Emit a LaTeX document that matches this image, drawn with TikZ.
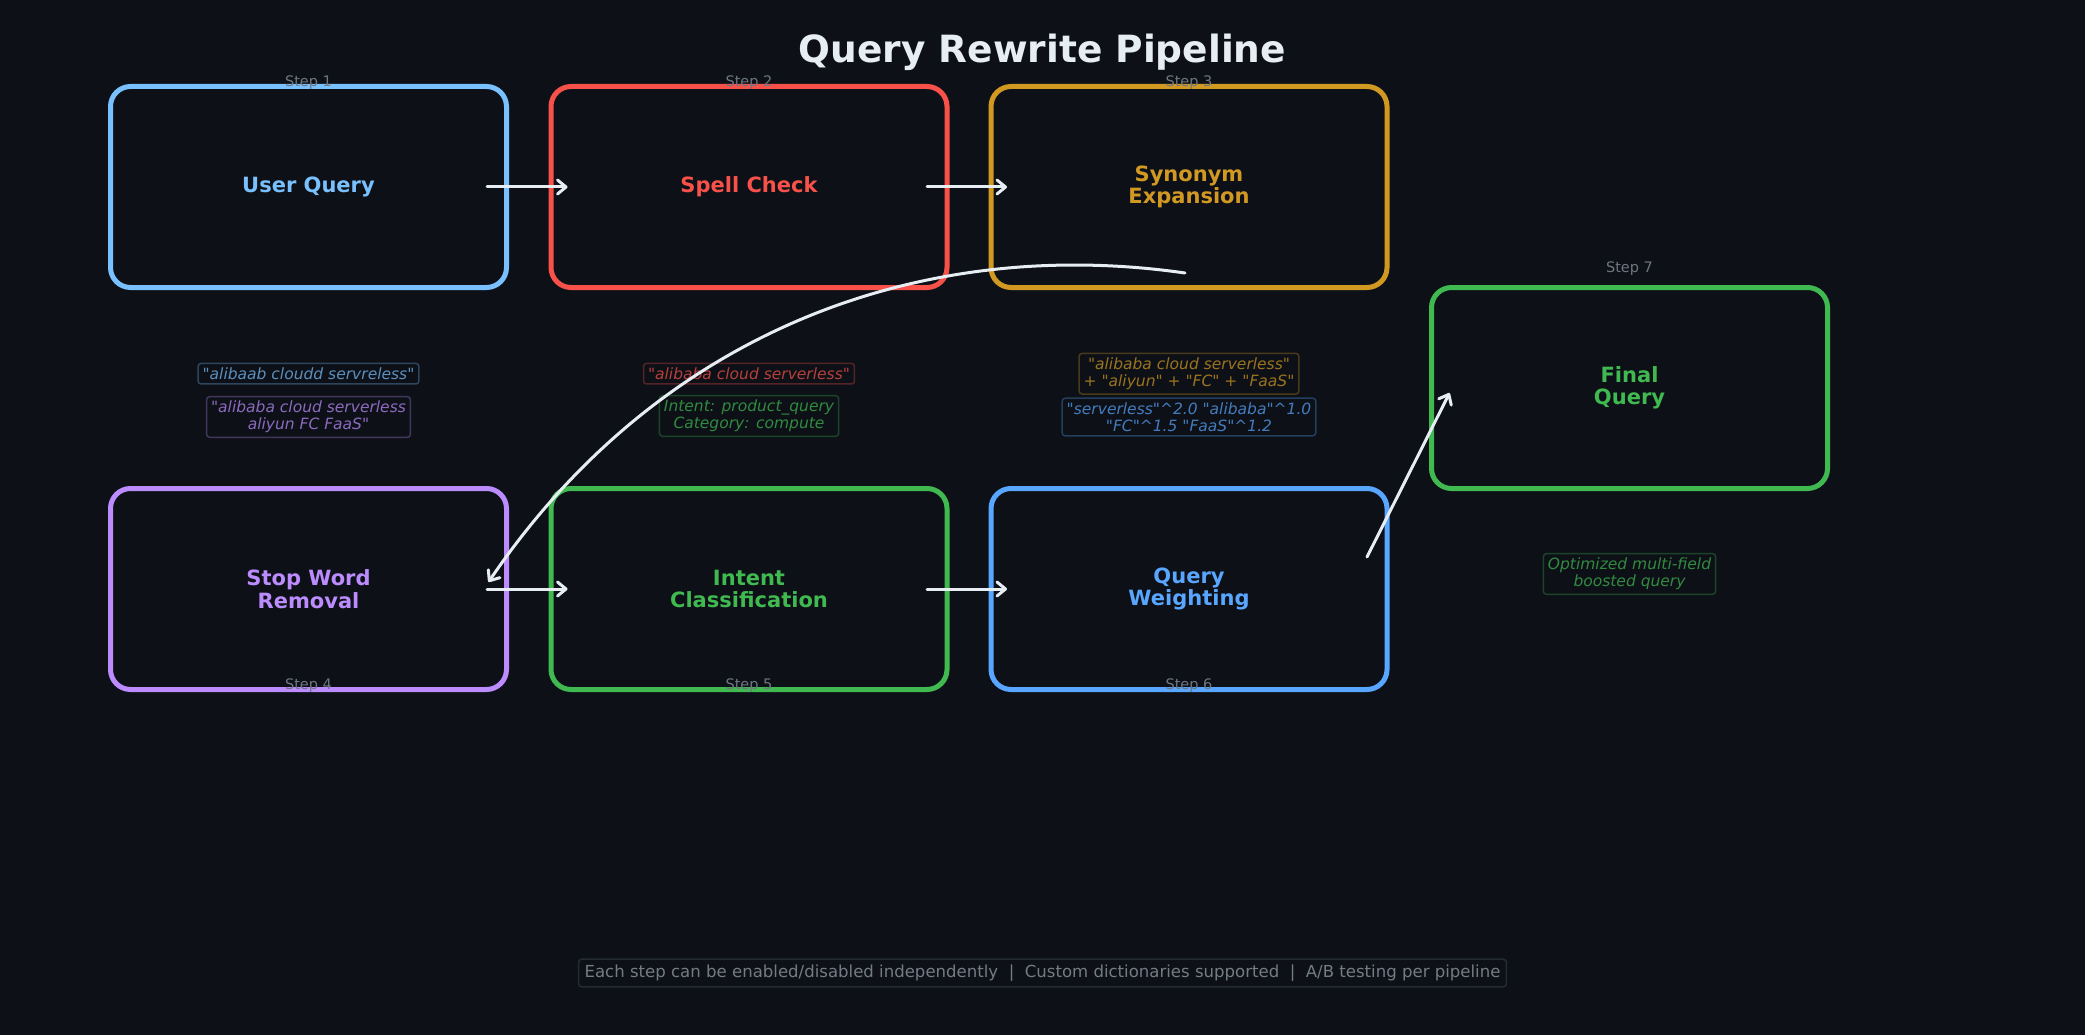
\documentclass[tikz,border=0pt]{standalone}
\usepackage{fontspec}
\setmainfont{DejaVu Sans}[Ligatures=TeXOff,ItalicFont={DejaVu Sans Oblique},BoldFont={DejaVu Sans Bold},BoldItalicFont={DejaVu Sans Bold Oblique}]
\usetikzlibrary{arrows.meta}
\newcommand{\caret}{\char94\relax}
\definecolor{bg}{HTML}{0D1117}
\definecolor{cA}{HTML}{79C0FF}
\definecolor{cB}{HTML}{F85149}
\definecolor{cC}{HTML}{D29922}
\definecolor{cD}{HTML}{BC8CFF}
\definecolor{cE}{HTML}{3FB950}
\definecolor{cF}{HTML}{58A6FF}
\definecolor{titlec}{HTML}{E6EDF3}
\definecolor{arrowc}{HTML}{E6EDF3}
\definecolor{stepc}{HTML}{6E7681}
\definecolor{footc}{HTML}{737B85}
\definecolor{footb}{HTML}{252B33}
\tikzset{
  stagebox/.style={draw=#1, text=#1, fill=bg, line width=5pt, rounded corners=20pt,
    minimum width=396pt, minimum height=201pt, outer sep=0pt, inner sep=0pt, align=center,
    font=\fontsize{21}{22.5}\selectfont\bfseries},
  steplbl/.style={text=stepc, inner sep=0pt, font=\fontsize{14.5}{16}\selectfont},
  outlbl/.style={draw=#1!30!bg, text=#1!72!bg, fill=bg, line width=1.5pt, rounded corners=3pt,
    inner xsep=4.5pt, inner ysep=4.3pt, align=center,
    font=\fontsize{15.5}{17}\selectfont\itshape},
  flow/.style={draw=arrowc, line width=3pt, line cap=round,
    -{Straight Barb[length=8.5pt,width=14pt,line cap=round,line join=round]}},
}
\begin{document}
\begin{tikzpicture}[x=1pt,y=-1pt]
\useasboundingbox (0,0) rectangle (2085,1035);
\fill[bg] (0,0) rectangle (2085,1035);

\node[text=titlec, font=\fontsize{37.5}{40}\selectfont\bfseries] (title) at (1042.5,52) {Query Rewrite Pipeline};

% stage boxes
\node[stagebox=cA] (b1) at (308.5,187) {User Query};
\node[stagebox=cB] (b2) at (749,187) {Spell Check};
\node[stagebox=cC] (b3) at (1189,187) {Synonym\\Expansion};
\node[stagebox=cD] (b4) at (308.5,589) {Stop Word\\Removal};
\node[stagebox=cE] (b5) at (749,589) {Intent\\Classification};
\node[stagebox=cF] (b6) at (1189,589) {Query\\Weighting};
\node[stagebox=cE] (b7) at (1629.5,388) {Final\\Query};

% step labels
\node[steplbl] (s1) at (308.5,83) {Step 1};
\node[steplbl] (s2) at (749,83) {Step 2};
\node[steplbl] (s3) at (1189,83) {Step 3};
\node[steplbl] (s4) at (308.5,686) {Step 4};
\node[steplbl] (s5) at (749,686) {Step 5};
\node[steplbl] (s6) at (1189,686) {Step 6};
\node[steplbl] (s7) at (1629.5,269) {Step 7};

% output labels
\node[outlbl=cA] (l1) at (308.5,373.7) {"alibaab cloudd servreless"};
\node[outlbl=cD] (l4) at (308.5,417) {"alibaba cloud serverless\\aliyun FC FaaS"};
\node[outlbl=cB] (l2) at (749,373.7) {"alibaba cloud serverless"};
\node[outlbl=cE] (l5) at (749,416) {Intent: product\_query\\Category: compute};
\node[outlbl=cC] (l3) at (1189,373.7) {"alibaba cloud serverless"\\+ "aliyun" + "FC" + "FaaS"};
\node[outlbl=cF] (l6) at (1189,417) {"serverless"\caret 2.0 "alibaba"\caret 1.0\\"FC"\caret 1.5 "FaaS"\caret 1.2};
\node[outlbl=cE] (l7) at (1629.5,574) {Optimized multi-field\\boosted query};

% connectors
\draw[flow] ([xshift=-19.5pt]b1.east) -- ([xshift=16.5pt]b2.west);
\draw[flow] ([xshift=-20pt]b2.east) -- ([xshift=16pt]b3.west);
\draw[flow] ([xshift=-19.5pt]b4.east) -- ([xshift=16.5pt]b5.west);
\draw[flow] ([xshift=-20pt]b5.east) -- ([xshift=16pt]b6.west);
\draw[flow] ([xshift=-20pt,yshift=32pt]b6.east) -- ([xshift=18pt,yshift=-5pt]b7.west);
\draw[flow] ([xshift=-4pt,yshift=14.5pt]b3.south) .. controls +(-265,-38) and +(170,-250) .. ([xshift=-18pt,yshift=7pt]b4.east);

% footer
\node[draw=footb, text=footc, fill=bg, line width=1.5pt, rounded corners=3pt, inner xsep=6pt, inner ysep=5.5pt,
  font=\fontsize{16.55}{18}\selectfont] (foot) at (1042.5,973)
  {Each step can be enabled/disabled independently\ \ |\ \ Custom dictionaries supported\ \ |\ \ A/B testing per pipeline};
\end{tikzpicture}
\end{document}
